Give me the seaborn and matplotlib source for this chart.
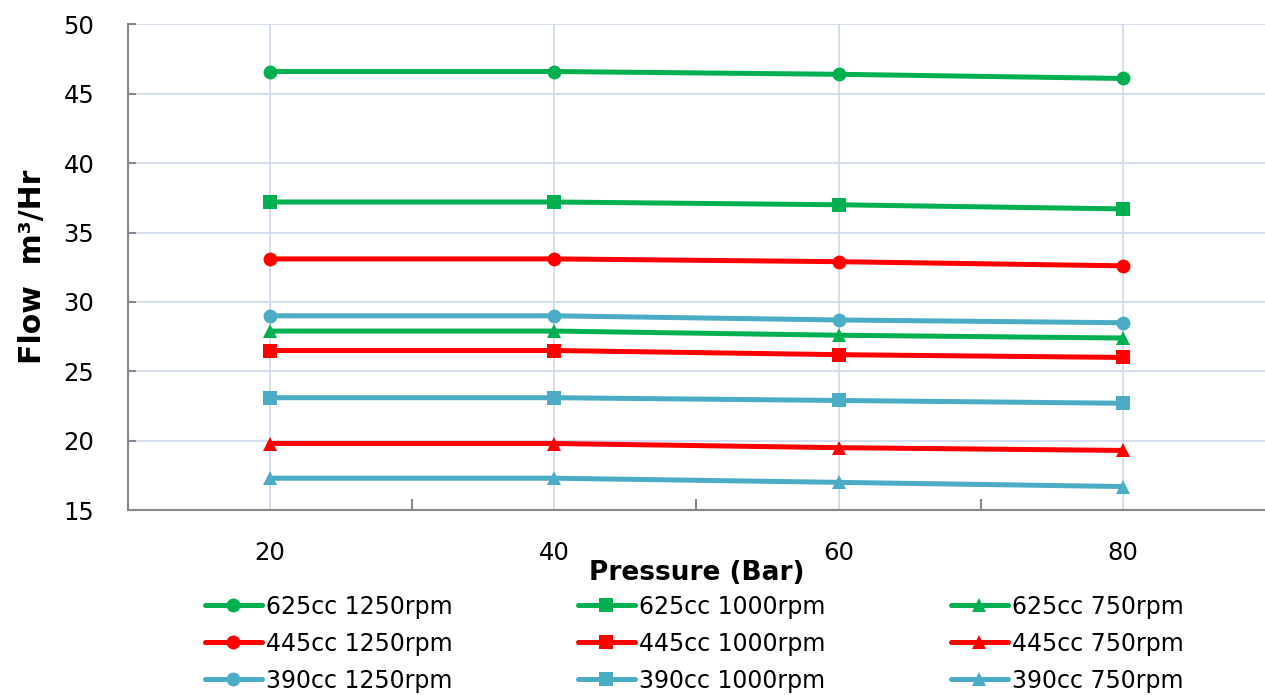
import pandas as pd
import matplotlib.pyplot as plt
import seaborn as sns
from matplotlib.lines import Line2D

# data
pressure = [20, 40, 60, 80]
series_names = ['625cc 1250rpm', '445cc 1250rpm', '390cc 1250rpm',
                '625cc 1000rpm', '445cc 1000rpm', '390cc 1000rpm',
                '625cc 750rpm', '445cc 750rpm', '390cc 750rpm']
flow_625_1250 = [46.6, 46.6, 46.4, 46.1]
flow_445_1250 = [33.1, 33.1, 32.9, 32.6]
flow_390_1250 = [29.0, 29.0, 28.7, 28.5]
flow_625_1000 = [37.2, 37.2, 37.0, 36.7]
flow_445_1000 = [26.5, 26.5, 26.2, 26.0]
flow_390_1000 = [23.1, 23.1, 22.9, 22.7]
flow_625_750 = [27.9, 27.9, 27.6, 27.4]
flow_445_750 = [19.8, 19.8, 19.5, 19.3]
flow_390_750 = [17.3, 17.3, 17.0, 16.7]

flows = [flow_625_1250, flow_445_1250, flow_390_1250,
         flow_625_1000, flow_445_1000, flow_390_1000,
         flow_625_750, flow_445_750, flow_390_750]

green, red, blue = '#00B050', '#FF0000', '#4BACC6'
palette = dict(zip(series_names, [green, red, blue] * 3))
markers = dict(zip(series_names, ['o'] * 3 + ['s'] * 3 + ['^'] * 3))

rows = []
for name, vals in zip(series_names, flows):
    for p, v in zip(pressure, vals):
        rows.append({'series': name, 'pressure': p, 'flow': v})
df = pd.DataFrame(rows)

sns.set_style('white')
plt.rcParams['font.family'] = ['DejaVu Sans']
plt.rcParams['text.color'] = 'black'
plt.rcParams['axes.labelcolor'] = 'black'
plt.rcParams['xtick.color'] = 'black'
plt.rcParams['ytick.color'] = 'black'

fig = plt.figure(figsize=(12.65, 6.95), dpi=100)
ax = fig.add_axes([0.101, 0.266, 0.899, 0.699])

sns.lineplot(data=df, x='pressure', y='flow', hue='series', style='series',
             palette=palette, markers=markers, dashes=False, linewidth=3.6,
             markersize=10, markeredgewidth=0, ax=ax, legend=False, zorder=3)

ax.set_xlim(10, 90)
ax.set_ylim(15, 50)
ax.set_xticks(pressure)
ax.set_xticks([30, 50, 70], minor=True)
ax.set_yticks(range(15, 51, 5))
ax.grid(True, which='major', color='#CCD8EC', linewidth=1.2, zorder=0)
ax.tick_params(axis='x', which='major', bottom=False, labelsize=17.5, pad=19)
ax.tick_params(axis='x', which='minor', bottom=True, direction='in', length=8,
               width=1.5, color='#888888')
ax.tick_params(axis='y', left=True, direction='in', length=6, width=1.5,
               color='#888888', labelcolor='black', labelsize=17.5, pad=24)
for s in ['top', 'right']:
    ax.spines[s].set_visible(False)
for s in ['left', 'bottom']:
    ax.spines[s].set_color('#888888')
    ax.spines[s].set_linewidth(1.5)

ax.set_xlabel('Pressure (Bar)', fontsize=19, fontweight='bold', labelpad=-4)
ax.set_ylabel('Flow  m³/Hr', fontsize=21.5, fontweight='bold', labelpad=12)

handles = [Line2D([], [], color=palette[n], marker=markers[n], linewidth=3.6,
                  markersize=10, markeredgewidth=0) for n in series_names]
fig.legend(handles, series_names, loc='center', bbox_to_anchor=(0.549, 0.074),
           ncol=3, frameon=False, fontsize=17, handlelength=2.4,
           handletextpad=0.2, columnspacing=5.3, labelspacing=0.55,
           borderpad=0.1)

plt.savefig('out.png', dpi=100)
